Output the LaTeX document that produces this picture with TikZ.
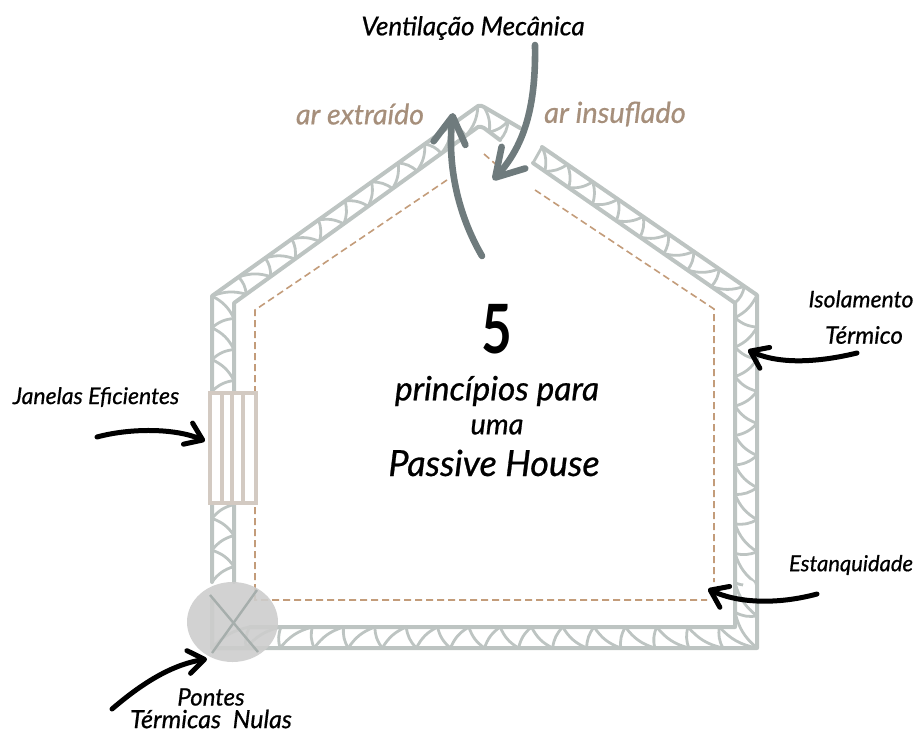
\documentclass[tikz,border=0pt]{standalone}
\usepackage{fontspec}
\setmainfont{Lato}[ItalicFeatures={FakeBold=0.7}]
\usetikzlibrary{arrows.meta,calc}
\definecolor{wallGray}{HTML}{BDC4C2}
\definecolor{dashTan}{HTML}{C39C7A}
\definecolor{windowTan}{HTML}{D3CAC2}
\definecolor{labelTan}{HTML}{A68F7B}
\definecolor{ventGray}{HTML}{6F7B7D}
\definecolor{bridgeGray}{HTML}{CDCDCD}
\definecolor{crossGray}{HTML}{A6AEAC}
\tikzset{
  wallLine/.style={draw=wallGray,line width=4pt,line join=round,line cap=round},
  strutLine/.style={draw=wallGray,line width=2.8pt,line cap=round},
  airDash/.style={draw=dashTan,line width=1.6pt,dash pattern=on 7pt off 4pt},
  windowLine/.style={draw=windowTan,line width=3.4pt},
  ventArrow/.style={draw=ventGray,line width=6.6pt,line cap=round,-{Straight Barb[length=27pt,width=32pt,round]}},
  blackArrow/.style={draw=black,line width=5pt,line cap=round,-{Straight Barb[length=16pt,width=23pt,round]}},
  labelText/.style={font=\fontsize{#1}{#1}\selectfont\itshape,inner sep=0pt,text=black},
  tanText/.style={font=\fontsize{#1}{#1}\selectfont\itshape,inner sep=0pt,text=labelTan}
}
% curved struts between two parallel wall lines
\newcommand{\insulate}[5]{
  \foreach \i in {1,...,#5} {
    \pgfmathsetmacro{\ta}{(\i-1)/#5}
    \pgfmathsetmacro{\tb}{\i/#5}
    \ifodd\i
      \draw[strutLine] ($#1!\ta!#2$) to[bend left=18] ($#3!\tb!#4$);
    \else
      \draw[strutLine] ($#3!\ta!#4$) to[bend right=18] ($#1!\tb!#2$);
    \fi
  }
}
\begin{document}
\begin{tikzpicture}[x=1pt,y=-1pt]
    \useasboundingbox (0,0) rectangle (917,732);
    % house walls
    \draw[wallLine] (212,582) -- (212,296) -- (478,106) to[bend left=25] (484,107) -- (520,128);
    \draw[wallLine] (542,147) -- (757,295) -- (757,648) -- (212,648) -- (212,600);
    \draw[wallLine] (234,582) -- (234,303) -- (478,127) to[bend left=20] (484,128) -- (500,140);
    \draw[wallLine] (533,163) -- (735,303) -- (735,627) -- (250,627);
    \draw[strutLine] (542,147) -- (533,163);
    \insulate{(212,582)}{(212,296)}{(234,582)}{(234,303)}{18}
    \insulate{(212,296)}{(478,106)}{(234,303)}{(478,127)}{20}
    \insulate{(484,107)}{(520,128)}{(484,128)}{(500,140)}{3}
    \insulate{(542,147)}{(757,295)}{(533,163)}{(735,303)}{17}
    \insulate{(757,295)}{(757,648)}{(735,303)}{(735,627)}{22}
    \insulate{(757,648)}{(212,648)}{(735,627)}{(234,627)}{32}
    \fill[white] (749,586) circle (6);
    % air tightness line
    \draw[airDash] (447,180) -- (255,310) -- (255,600) -- (707,600);
    \draw[airDash] (484,154) -- (500,168);
    \draw[airDash] (535,190) -- (714,309) -- (714,582);
    % window
    \draw[windowLine,fill=white] (210,393) rectangle (256,503);
    \foreach \winX in {222,232,243}
        \draw[windowLine] (\winX,393) -- (\winX,503);
    % thermal bridge
    \fill[bridgeGray,opacity=.9] (232.5,622) ellipse (45.5 and 40);
    \draw[crossGray,line width=2.4pt] (210,595) -- (258,652);
    \draw[crossGray,line width=2.4pt] (257,590) -- (212,653);
    % labels
    \node[labelText=26] (ventLabel) at (473,28) {Ventilação Mecânica};
    \node[tanText=28.5] (extLabel) at (360,114) {ar extraído};
    \node[tanText=29] (insLabel) at (615,114) {ar insuflado};
    \node[labelText=64,font=\fontsize{68}{68}\selectfont\bfseries,xscale=.78,transform shape] (fiveLabel) at (497,329) {5};
    \node[labelText=33.5] (priLabel) at (497,391) {princípios para};
    \node[labelText=29] (umaLabel) at (497,427) {uma};
    \node[labelText=36] (pasLabel) at (494,463) {Passive House};
    \node[labelText=23] (janLabel) at (96,397) {Janelas Eficientes};
    \node[labelText=23] (isoLabel) at (861,299) {Isolamento};
    \node[labelText=24] (terLabel) at (864,335) {Térmico};
    \node[labelText=22] (estLabel) at (851,565) {Estanquidade};
    \node[labelText=24] (ponLabel) at (211,697) {Pontes};
    \node[labelText=25] (nulLabel) at (211,719) {Térmicas~ Nulas};
    % arrows
    \coordinate (supFrom) at (535,45);
    \coordinate (supTo) at (493,180);
    \coordinate (extFrom) at (482,256);
    \coordinate (extTo) at (453,113);
    \coordinate (janFrom) at (97,437);
    \coordinate (janTo) at (205,441);
    \coordinate (isoFrom) at (857,353);
    \coordinate (isoTo) at (748,350);
    \coordinate (estFrom) at (817,594);
    \coordinate (estTo) at (708,589);
    \coordinate (ponFrom) at (112,709);
    \coordinate (ponTo) at (207,659);
    \draw[ventArrow] (supFrom) .. controls (536,105) and (525,145) .. (supTo);
    \draw[ventArrow] (extFrom) .. controls (458,215) and (447,165) .. (extTo);
    \draw[blackArrow] (janFrom) .. controls (130,428) and (175,428) .. (janTo);
    \draw[blackArrow] (isoFrom) .. controls (820,362) and (780,365) .. (isoTo);
    \draw[blackArrow] (estFrom) .. controls (780,604) and (740,604) .. (estTo);
    \draw[blackArrow] (ponFrom) .. controls (140,685) and (170,665) .. (ponTo);
\end{tikzpicture}
\end{document}
